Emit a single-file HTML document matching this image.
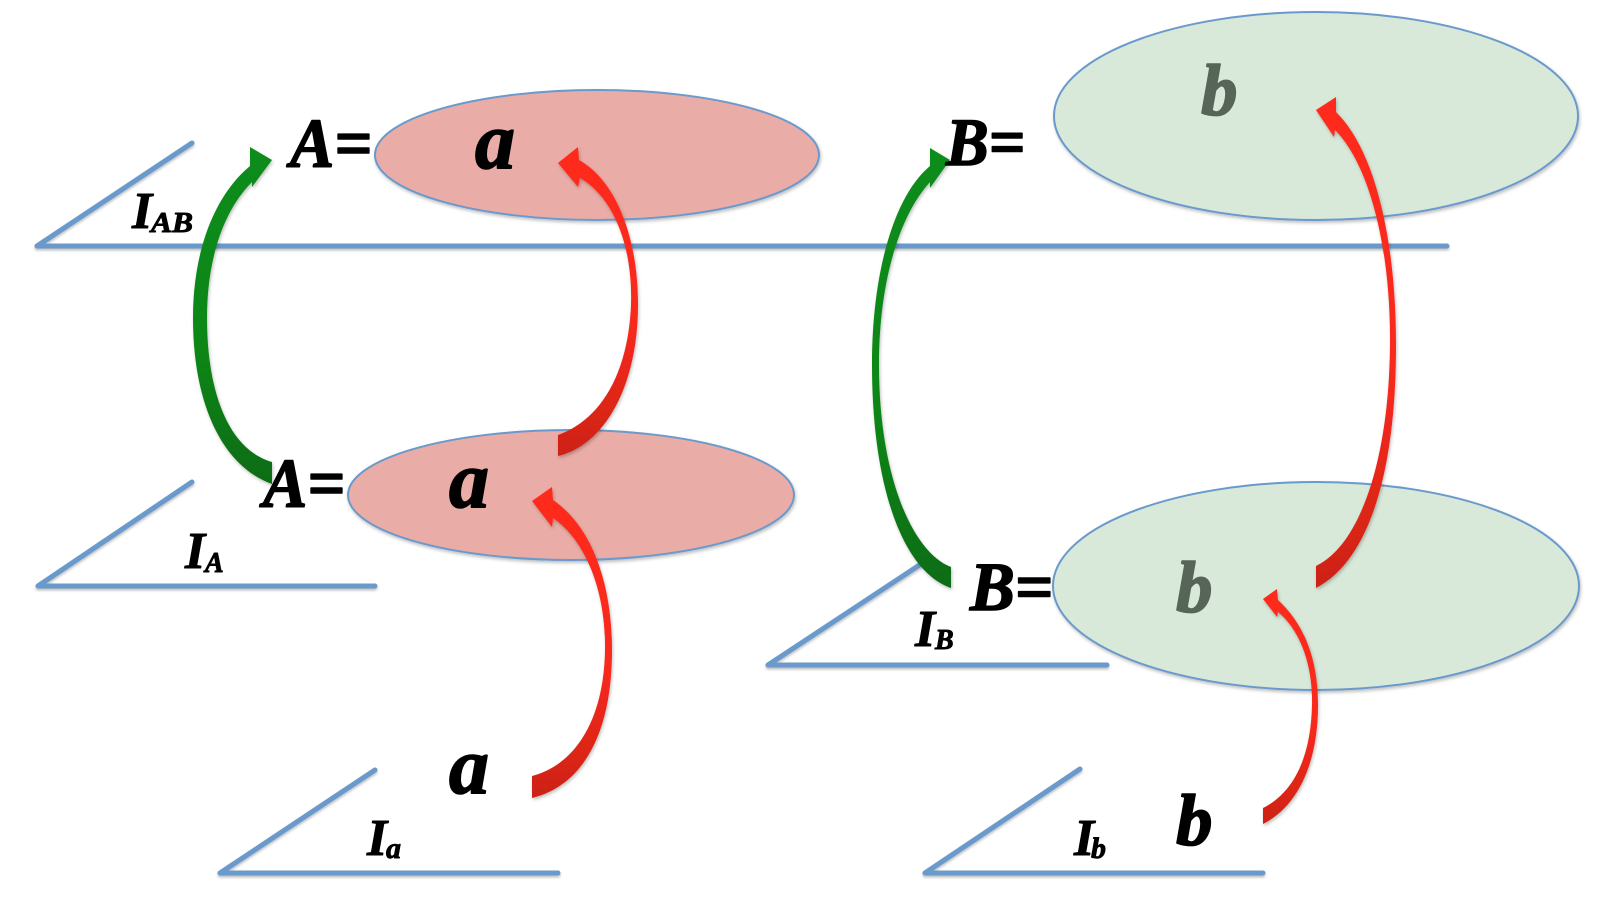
<!DOCTYPE html>
<html>
<head>
<meta charset="utf-8">
<style>
  html, body { margin: 0; padding: 0; background: #ffffff; }
  svg { display: block; }
  text { font-family: "Liberation Serif", "DejaVu Serif", serif; font-weight: bold; font-style: italic; }
</style>
</head>
<body>
<svg width="1600" height="907" viewBox="0 0 1600 907" xmlns="http://www.w3.org/2000/svg">
  <defs>
    <filter id="sh" x="-20%" y="-20%" width="140%" height="140%">
      <feDropShadow dx="1" dy="2" stdDeviation="1.5" flood-color="#000" flood-opacity="0.25"/>
    </filter>
    <filter id="shl" x="-5%" y="-50%" width="110%" height="200%">
      <feDropShadow dx="0" dy="2" stdDeviation="1.2" flood-color="#000" flood-opacity="0.25"/>
    </filter>
    <linearGradient id="redV" x1="0" y1="0" x2="0" y2="1">
      <stop offset="0" stop-color="#ff2a1c"/>
      <stop offset="0.6" stop-color="#f6291b"/>
      <stop offset="1" stop-color="#cc2317"/>
    </linearGradient>
    <linearGradient id="greenV" x1="0" y1="0" x2="0" y2="1">
      <stop offset="0" stop-color="#0a8c1a"/>
      <stop offset="0.6" stop-color="#0a8619"/>
      <stop offset="1" stop-color="#0a6c17"/>
    </linearGradient>
  </defs>

  <!-- Plane lines -->
  <g stroke="#6a99cc" stroke-width="5" fill="none" stroke-linecap="round" stroke-linejoin="round" filter="url(#shl)">
    <polyline points="192,143 37,246 1447,246"/>
    <polyline points="192,482 38,586 375,586"/>
    <polyline points="375,770 220,873 558,873"/>
    <polyline points="924,562 768,665 1107,665"/>
    <polyline points="1080,769 925,873 1263,873"/>
  </g>

  <!-- Ellipses -->
  <g stroke="#6a99cc" stroke-width="2" filter="url(#sh)">
    <ellipse cx="597" cy="155" rx="222" ry="65" fill="#eaaca7"/>
    <ellipse cx="571" cy="495" rx="223" ry="65" fill="#eaaca7"/>
    <ellipse cx="1316" cy="116" rx="262" ry="104" fill="#d8e8d9"/>
    <ellipse cx="1316" cy="586" rx="263" ry="104" fill="#d8e8d9"/>
  </g>

  <!-- Arrows -->
  <g filter="url(#sh)">
    <path fill="url(#greenV)" d="M 272,160 L 250,147 L 250,166 C 215,195 193,250 193,318 C 193,400 220,465 272,484 L 272,462 C 230,450 207,395 207,318 C 207,262 222,212 252,182 L 252,187 Z"/>
    <path fill="url(#greenV)" d="M 950,160 L 930,148 L 930,166 C 895,195 872,270 872,365 C 872,480 900,570 951,588 L 951,567 C 912,552 879,475 879,365 C 879,280 900,215 930,182 L 930,188 Z"/>
    <path fill="url(#redV)" d="M 558,163 L 578,147 L 579,160 C 615,180 638,235 638,305 C 638,385 605,445 558,456 L 558,435 C 600,420 628,375 631,305 C 633,240 610,195 580,178 L 578,187 Z"/>
    <path fill="url(#redV)" d="M 532,501 L 552,487 L 553,500 C 590,525 612,580 612,650 C 612,730 585,785 532,798 L 532,776 C 575,765 604,720 605,650 C 606,590 585,540 553,518 L 552,527 Z"/>
    <path fill="url(#redV)" d="M 1316,110 L 1336,97 L 1336,112 C 1375,150 1396,240 1396,345 C 1396,470 1370,560 1316,588 L 1316,566 C 1360,545 1389,460 1390,345 C 1391,250 1370,165 1335,130 L 1334,137 Z"/>
    <path fill="url(#redV)" d="M 1263,599 L 1277,589 L 1278,600 C 1305,625 1318,660 1318,705 C 1318,760 1300,805 1263,824 L 1263,808 C 1295,792 1311,755 1312,705 C 1313,665 1300,630 1278,612 L 1277,617 Z"/>
  </g>

  <!-- Labels -->
  <g fill="#000" stroke="#000" stroke-width="1.6" stroke-linejoin="round">
    <text x="290" y="167" font-size="70" textLength="82" lengthAdjust="spacingAndGlyphs">A=</text>
    <text x="263" y="507" font-size="70" textLength="82" lengthAdjust="spacingAndGlyphs">A=</text>
    <text x="946" y="165" font-size="68" textLength="79" lengthAdjust="spacingAndGlyphs">B=</text>
    <text x="970" y="610" font-size="69" textLength="83" lengthAdjust="spacingAndGlyphs">B=</text>

    <text x="475" y="168" font-size="80">a</text>
    <text x="449" y="507" font-size="80">a</text>
    <text x="449" y="793" font-size="80">a</text>

    <text x="1201" y="115" font-size="73" fill="#566557" stroke="#566557">b</text>
    <text x="1176" y="612" font-size="73" fill="#566557" stroke="#566557">b</text>
    <text x="1176" y="845" font-size="73">b</text>
  </g>
  <g fill="#000" stroke="#000" stroke-width="0.9" stroke-linejoin="round">
    <text x="132" y="228" font-size="52">I</text>
    <text x="151" y="232" font-size="28" textLength="42" lengthAdjust="spacingAndGlyphs">AB</text>

    <text x="185" y="568" font-size="52">I</text>
    <text x="205" y="572" font-size="28">A</text>

    <text x="367" y="855" font-size="52">I</text>
    <text x="386" y="858" font-size="30">a</text>

    <text x="915" y="646" font-size="52">I</text>
    <text x="935" y="649" font-size="28">B</text>

    <text x="1074" y="855" font-size="52">I</text>
    <text x="1091" y="858" font-size="30">b</text>
  </g>
</svg>
</body>
</html>
